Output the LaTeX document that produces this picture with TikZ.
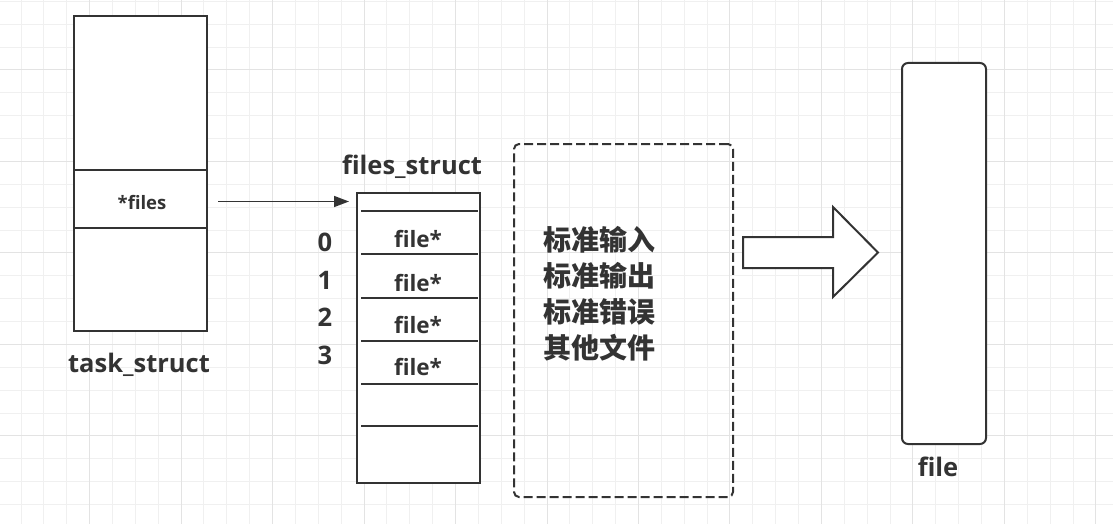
\documentclass[tikz,border=0pt]{standalone}
\usepackage{fontspec}
\setmainfont{Open Sans}
\newfontfamily\cjk{Noto Sans CJK SC}
\usetikzlibrary{arrows.meta,calc}
\definecolor{ink}{HTML}{333333}
\definecolor{gridminor}{HTML}{F0F0F0}
\definecolor{gridmajor}{HTML}{E3E3E3}
\tikzset{
  box/.style={draw=ink, line width=2pt, fill=white, inner sep=0pt, outer sep=0pt},
  rowline/.style={draw=ink, line width=2pt},
  biglbl/.style={text=ink, inner sep=0pt, font=\fontsize{25.5}{28}\selectfont\bfseries},
  numlbl/.style={text=ink, inner sep=0pt, font=\fontsize{25.5}{28}\selectfont\bfseries},
  celllbl/.style={text=ink, inner sep=0pt, font=\fontsize{22.5}{24}\selectfont\bfseries},
  smalllbl/.style={text=ink, inner sep=0pt, font=\fontsize{18.5}{22}\selectfont\bfseries},
  cjklbl/.style={text=ink, inner sep=0pt, align=left, font=\cjk\fontsize{28}{36}\selectfont\bfseries},
  dashbox/.style={draw=ink, line width=2pt, rounded corners=5pt, dash pattern=on 9pt off 4pt, inner sep=0pt},
  roundbox/.style={draw=ink, line width=2pt, rounded corners=6pt, fill=white, inner sep=0pt},
  ptr/.style={draw=ink, line width=1.6pt, -{Triangle[length=15pt,width=11pt]}},
  bigarrow/.style={draw=ink, line width=2pt, fill=white, line join=miter}
}
\begin{document}
\begin{tikzpicture}[x=1pt,y=-1pt]
\useasboundingbox (0,0) rectangle (1113,524);
\fill[white] (0,0) rectangle (1113,524);
% background grid
\foreach \k in {-1,...,47} {
  \pgfmathsetmacro\xx{21+22.87*\k}
  \draw[gridminor, line width=1pt] (\xx,0) -- (\xx,524);
}
\foreach \k in {-3,...,20} {
  \pgfmathsetmacro\yy{70+22.87*\k}
  \draw[gridminor, line width=1pt] (0,\yy) -- (1113,\yy);
}
\foreach \k in {-1,3,...,47} {
  \pgfmathsetmacro\xx{21+22.87*\k}
  \draw[gridmajor, line width=1pt] (\xx,0) -- (\xx,524);
}
\foreach \k in {0,4,...,20} {
  \pgfmathsetmacro\yy{70+22.87*\k}
  \draw[gridmajor, line width=1pt] (0,\yy) -- (1113,\yy);
}

% task_struct
\node[box, anchor=north west, minimum width=133pt, minimum height=315pt] (ts) at (74,16) {};
\node[box, anchor=north west, minimum width=133pt, minimum height=58pt] (tsfiles) at (74,170) {};
\node[smalllbl] (tsfileslbl) at (142,203) {*files};
\node[biglbl] (tslbl) at (139,365) {task\_struct};

% files_struct
\node[box, anchor=north west, minimum width=123pt, minimum height=290pt] (fs) at (357,193) {};
\node[biglbl] (fslbl) at (412,167) {files\_struct};
\foreach \yy in {211,253.5,297.5,341,384,426} {
  \draw[rowline] ($(fs.north west)+(4,\yy-193)$) -- ($(fs.north east)+(-2,\yy-193)$);
}
\node[celllbl] (f0) at (418,239) {file*};
\node[celllbl] (f1) at (418,283) {file*};
\node[celllbl] (f2) at (418,325) {file*};
\node[celllbl] (f3) at (418,367) {file*};
\node[numlbl] (n0) at (325,242) {0};
\node[numlbl] (n1) at (325,280) {1};
\node[numlbl] (n2) at (325,317) {2};
\node[numlbl] (n3) at (325,355) {3};

% pointer arrow
\draw[ptr] ([shift={(11,2.5)}]tsfiles.east) -- ([shift={(-8,2.5)}]tsfiles.east -| fs.west);

% dashed box
\node[dashbox, anchor=north west, minimum width=219pt, minimum height=353pt] (std) at (513,143) {};
\node[cjklbl, anchor=west] (stdtxt) at (543,294) {标准输入\\标准输出\\标准错误\\其他文件};

% block arrow
\path[bigarrow] (743,237) -- (833,237) -- (833,207) -- (878,252.5) -- (833,297) -- (833,268) -- (743,268) -- cycle;

% file
\node[roundbox, anchor=north west, minimum width=84pt, minimum height=381pt] (file) at (901,62) {};
\node[biglbl] (filelbl) at (938,467) {file};
\end{tikzpicture}
\end{document}
